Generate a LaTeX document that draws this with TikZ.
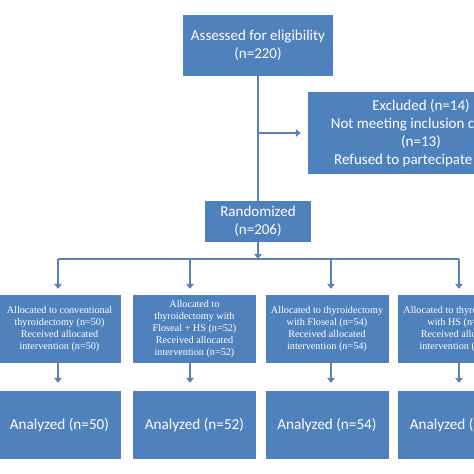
\documentclass[tikz,border=0pt]{standalone}
\usepackage{fontspec}
\setmainfont{Carlito}
\newfontfamily\timesfont{Liberation Serif}
\usetikzlibrary{arrows.meta}
\definecolor{boxblue}{HTML}{4F81BD}
\definecolor{lineblue}{HTML}{5A82B8}
\tikzset{
  bx/.style={fill=boxblue, draw=none, text=white, align=center, inner sep=0pt, font=\fontsize{15}{18}\selectfont},
  midbox/.style={bx, minimum width=123pt, minimum height=68pt, font=\timesfont\fontsize{10.2}{12}\selectfont},
  anbox/.style={bx, minimum width=123pt, minimum height=68pt, font=\fontsize{15.2}{18}\selectfont},
  ln/.style={draw=lineblue, line width=2.5pt},
  arr/.style={ln, -{Triangle[width=7.5pt,length=5pt]}}
}
\begin{document}
\begin{tikzpicture}[x=1pt,y=-1pt]
\useasboundingbox (0,0) rectangle (474,474);
\fill[white] (0,0) rectangle (474,474);
\clip (0,0) rectangle (474,474);
% top
\node[bx, minimum width=150pt, minimum height=61pt] (assess) at (258,45.5) {Assessed for eligibility\\(n=220)};
\node[bx, minimum width=226pt, minimum height=82pt] (excl) at (421,133) {Excluded (n=14)\\Not meeting inclusion criteria\\(n=13)\\Refused to partecipate (n=1)};
\node[bx, minimum width=106pt, minimum height=41pt] (rand) at (258,221.5) {Randomized\\(n=206)};
\coordinate (split) at (258,133);
\draw[ln] (assess.south) -- (rand.north);
\draw[arr, shorten >=7pt] (split) -- (excl.west |- split);
% branch
\coordinate (junc) at (258,259);
\coordinate (b1) at (58,259);
\coordinate (b2) at (190,259);
\coordinate (b3) at (331,259);
\coordinate (b4) at (459,259);
\draw[arr] (rand.south) -- (junc);
\draw[ln] (b1) -- (b4);
% middle
\node[midbox] (m1) at (59.5,329) {Allocated to conventional\\thyroidectomy (n=50)\\Received allocated\\intervention (n=50)};
\node[midbox] (m2) at (194.5,329) {Allocated to\\thyroidectomy with\\Floseal + HS (n=52)\\Received allocated\\intervention (n=52)};
\node[midbox] (m3) at (327,329) {Allocated to thyroidectomy\\with Floseal (n=54)\\Received allocated\\intervention (n=54)};
\node[midbox] (m4) at (459.5,329) {Allocated to thyroidectomy\\with HS (n=50)\\Received allocated\\intervention (n=50)};
\foreach \i in {1,2,3,4} {
  \draw[arr, shorten >=6pt] (b\i) -- (b\i |- m\i.north);
}
% bottom
\node[anbox] (a1) at (59.5,425) {Analyzed (n=50)};
\node[anbox] (a2) at (194.5,425) {Analyzed (n=52)};
\node[anbox] (a3) at (327,425) {Analyzed (n=54)};
\node[anbox] (a4) at (459.5,425) {Analyzed (n=50)};
\foreach \i in {1,2,3,4} {
  \draw[arr, shorten >=8pt] (b\i |- m\i.south) -- (b\i |- a\i.north);
}
\end{tikzpicture}
\end{document}
